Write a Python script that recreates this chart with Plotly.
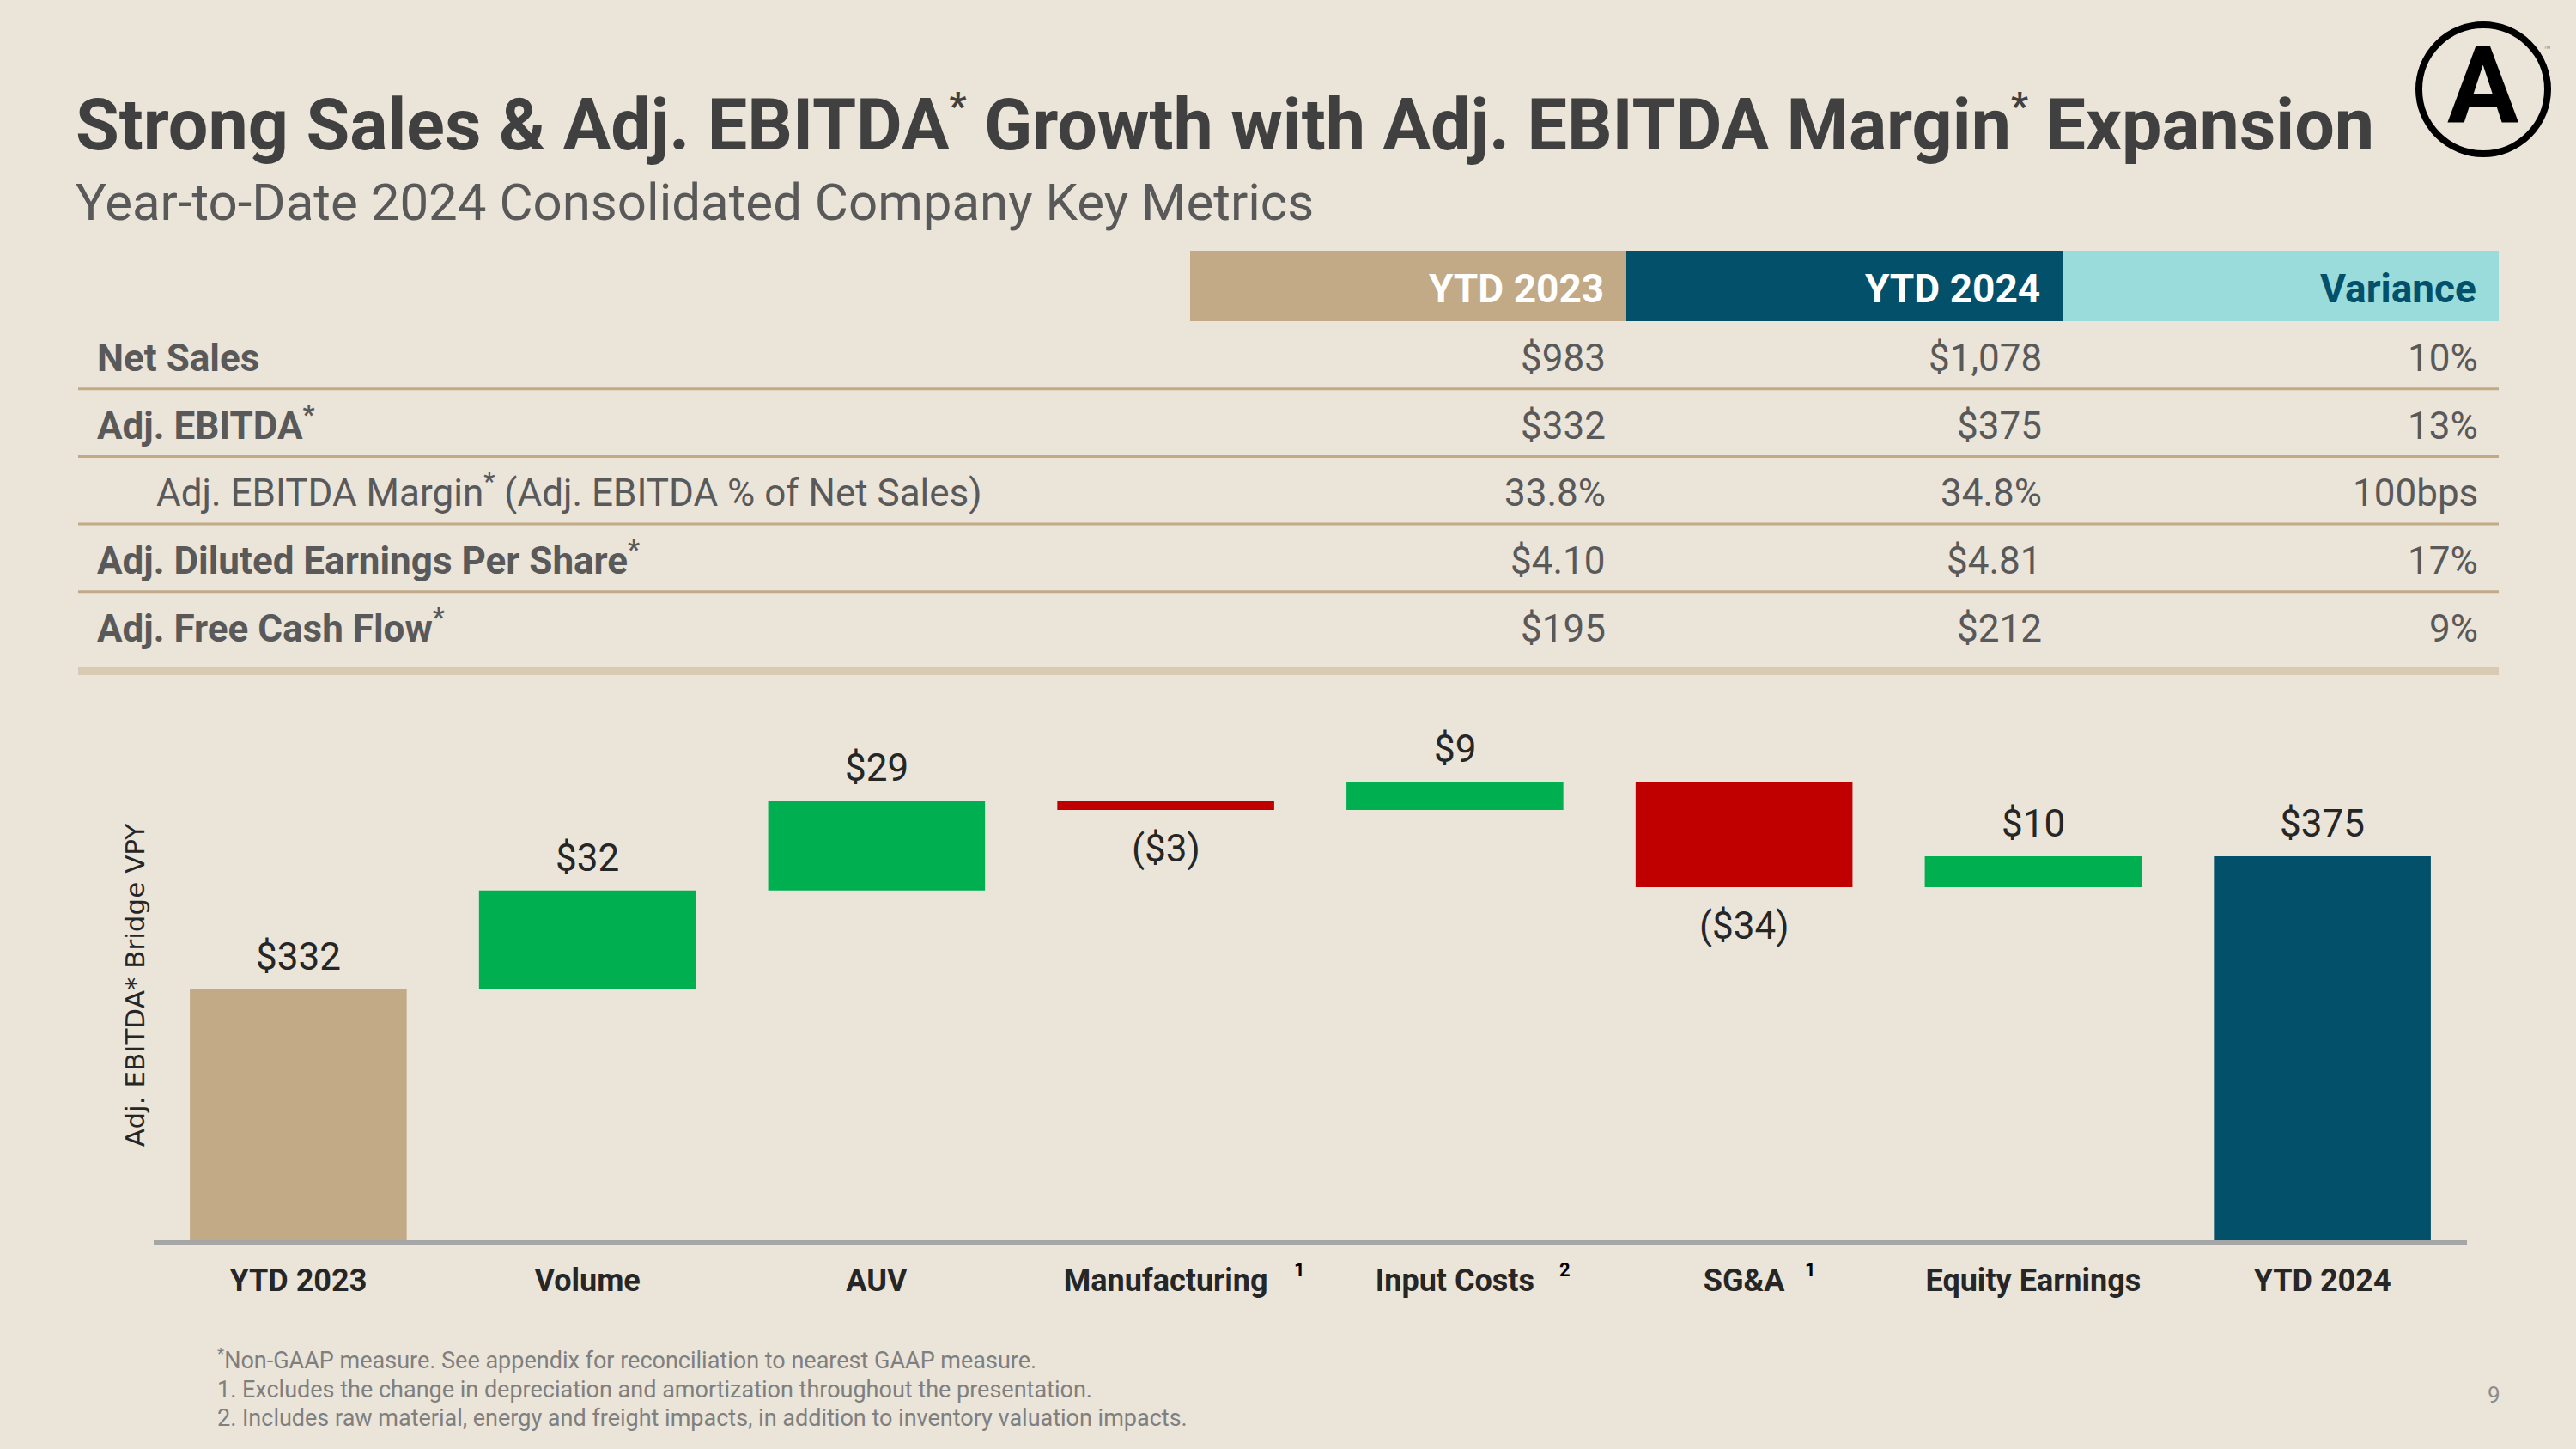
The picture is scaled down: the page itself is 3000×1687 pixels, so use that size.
import plotly.graph_objects as go

# ---------------- data ----------------
title_text = ("Strong Sales & Adj. EBITDA<sup><span style='font-size:44px'>*</span></sup> Growth "
              "with Adj. EBITDA Margin<sup><span style='font-size:44px'>*</span></sup> Expansion")
subtitle_text = "Year-to-Date 2024 Consolidated Company Key Metrics"

table_headers = ["YTD 2023", "YTD 2024", "Variance"]
row_labels = [
    "Net Sales",
    "Adj. EBITDA<sup>*</sup>",
    "Adj. EBITDA Margin<sup>*</sup> (Adj. EBITDA % of Net Sales)",
    "Adj. Diluted Earnings Per Share<sup>*</sup>",
    "Adj. Free Cash Flow<sup>*</sup>",
]
row_is_sub = [False, False, True, False, False]
ytd2023_vals = ["$983", "$332", "33.8%", "$4.10", "$195"]
ytd2024_vals = ["$1,078", "$375", "34.8%", "$4.81", "$212"]
variance_vals = ["10%", "13%", "100bps", "17%", "9%"]

bridge_categories = ["YTD 2023", "Volume", "AUV", "Manufacturing", "Input Costs",
                     "SG&A", "Equity Earnings", "YTD 2024"]
bridge_values = [332, 32, 29, -3, 9, -34, 10, 375]
bridge_measure = ["total", "delta", "delta", "delta", "delta", "delta", "delta", "total"]
bridge_note_marks = ["", "", "", "1", "2", "1", "", ""]

footnotes = [
    "<sup>*</sup>Non-GAAP measure. See appendix for reconciliation to nearest GAAP measure.",
    "1. Excludes the change in depreciation and amortization throughout the presentation.",
    "2. Includes raw material, energy and freight impacts, in addition to inventory valuation impacts.",
]
page_number = "9"
y_axis_title = "Adj. EBITDA* Bridge VPY"

# ---------------- style ----------------
W, H = 3000, 1687
BG = "#EAE4D9"
TAN = "#C2AA87"
NAVY = "#03506A"
TEAL = "#9ADCDB"
GREEN = "#00B050"
RED = "#C00000"
DARK = "#262626"
GREY = "#595959"
FONT = "Roboto"


def px_x(x):
    return x / W


def px_y(y):
    return 1 - y / H


annotations = []
shapes = []


def text_at(x, baseline, text, size, color, xanchor="left", weight="normal",
            family=FONT, descent=0.264):
    annotations.append(dict(
        xref="paper", yref="paper", x=px_x(x), y=px_y(baseline + descent * size),
        xanchor=xanchor, yanchor="bottom", text=text, showarrow=False,
        borderpad=0, borderwidth=0,
        font=dict(family=family, size=size, color=color, weight=weight)))


# title / subtitle
text_at(88, 172, title_text, 82.6, "#404040", weight="bold")
text_at(88, 255, subtitle_text, 60, GREY)

# logo
cx, cy, r = 2892, 104, 75
shapes.append(dict(type="circle", xref="paper", yref="paper",
                   x0=px_x(cx - r), x1=px_x(cx + r), y0=px_y(cy + r), y1=px_y(cy - r),
                   line=dict(color="#000000", width=8)))
text_at(cx, 140, "A", 124, "#000000", xanchor="center", weight="bold")
text_at(2962, 62, "™", 14, "#8C8C8C")

# ---------------- table ----------------
tbl_left, tbl_right = 91, 2910
col_edges = [1386, 1894, 2402, 2910]
head_top, head_bot = 292, 374
row_h = 78.7
head_fill = [TAN, NAVY, TEAL]
head_font = ["#FFFFFF", "#FFFFFF", NAVY]
pad_r = 24

for j, h in enumerate(table_headers):
    shapes.append(dict(type="rect", xref="paper", yref="paper", layer="below",
                       x0=px_x(col_edges[j]), x1=px_x(col_edges[j + 1]),
                       y0=px_y(head_bot), y1=px_y(head_top),
                       fillcolor=head_fill[j], line=dict(width=0)))
    text_at(col_edges[j + 1] - pad_r - 2, 351, h, 46, head_font[j], xanchor="right", weight="bold")

columns = [ytd2023_vals, ytd2024_vals, variance_vals]
for i, lab in enumerate(row_labels):
    base_line = head_bot + (i + 0.5) * row_h + 18
    if row_is_sub[i]:
        text_at(182, base_line, lab, 44, GREY)
    else:
        text_at(113, base_line, lab, 44, GREY, weight="bold")
    for j, col in enumerate(columns):
        text_at(col_edges[j + 1] - pad_r, base_line, col[i], 44, GREY, xanchor="right")
    if i < len(row_labels) - 1:
        yl = head_bot + (i + 1) * row_h
        shapes.append(dict(type="line", xref="paper", yref="paper",
                           x0=px_x(tbl_left), x1=px_x(tbl_right), y0=px_y(yl), y1=px_y(yl),
                           line=dict(color=TAN, width=3)))
yb = head_bot + len(row_labels) * row_h + 14
shapes.append(dict(type="line", xref="paper", yref="paper",
                   x0=px_x(tbl_left), x1=px_x(tbl_right), y0=px_y(yb), y1=px_y(yb),
                   line=dict(color="#D9CBB3", width=9)))

# ---------------- bridge chart ----------------
bases, heights, colors = [], [], []
running = 0
for k, (v, m) in enumerate(zip(bridge_values, bridge_measure)):
    if m == "total":
        bases.append(0)
        heights.append(v)
        running = v
        colors.append(TAN if k == 0 else NAVY)
    else:
        bases.append(running)
        heights.append(v)
        running += v
        colors.append(GREEN if v > 0 else RED)

fig = go.Figure()
fig.add_trace(go.Bar(x=bridge_categories, y=heights, base=bases,
                     marker=dict(color=colors, line=dict(width=0)),
                     hoverinfo="skip", showlegend=False))

for cat, b, h in zip(bridge_categories, bases, heights):
    if h >= 0:
        annotations.append(dict(xref="x", yref="y", x=cat, y=b + h, text=f"${h}",
                                showarrow=False, yanchor="bottom", yshift=10,
                                font=dict(family=FONT, size=44, color=DARK)))
    else:
        annotations.append(dict(xref="x", yref="y", x=cat, y=b + h, text=f"(${-h})",
                                showarrow=False, yanchor="top", yshift=-17,
                                font=dict(family=FONT, size=44, color=DARK)))

note_shift = {3: 156, 4: 128, 5: 77}
for k, (cat, mark) in enumerate(zip(bridge_categories, bridge_note_marks)):
    if mark:
        annotations.append(dict(xref="x", yref="paper", x=cat, y=px_y(1478),
                                xshift=note_shift.get(k, 0), yanchor="middle",
                                text=mark, showarrow=False,
                                font=dict(family=FONT, size=22, color="#000000", weight="bold")))

# footnotes & page number
for i, fn in enumerate(footnotes):
    text_at(253, 1593 + i * 33.5, fn, 27, "#7F7F7F")
text_at(2912, 1632, page_number, 26, "#8C8C8C", xanchor="right")

plot_left, plot_right = 179, 2873
plot_bot = 1444
plot_top = 850
y_lo = 251
unit_px = 3.605
y_hi = y_lo + (plot_bot - plot_top) / unit_px

fig.update_layout(
    width=W, height=H, autosize=False,
    margin=dict(l=0, r=0, t=0, b=0),
    paper_bgcolor=BG, plot_bgcolor=BG,
    bargap=0.25,
    xaxis=dict(domain=[px_x(plot_left), px_x(plot_right)],
               showline=True, linecolor="#A6A6A6", linewidth=5,
               showgrid=False, zeroline=False, ticks="",
               ticklabelstandoff=11,
               tickfont=dict(family=FONT, size=36, color=DARK, weight="bold"),
               fixedrange=True),
    yaxis=dict(domain=[px_y(plot_bot), px_y(plot_top)], range=[y_lo, y_hi],
               showline=False, showgrid=False, zeroline=False, showticklabels=False,
               ticks="",
               title=dict(text=y_axis_title, standoff=0,
                          font=dict(family="DejaVu Sans", size=31, color=DARK)),
               fixedrange=True),
    annotations=annotations,
    shapes=shapes,
)

fig.write_html("out.html",
               config={"displayModeBar": False},
               post_script="document.documentElement.style.margin='0';"
                           "document.body.style.margin='0';")
